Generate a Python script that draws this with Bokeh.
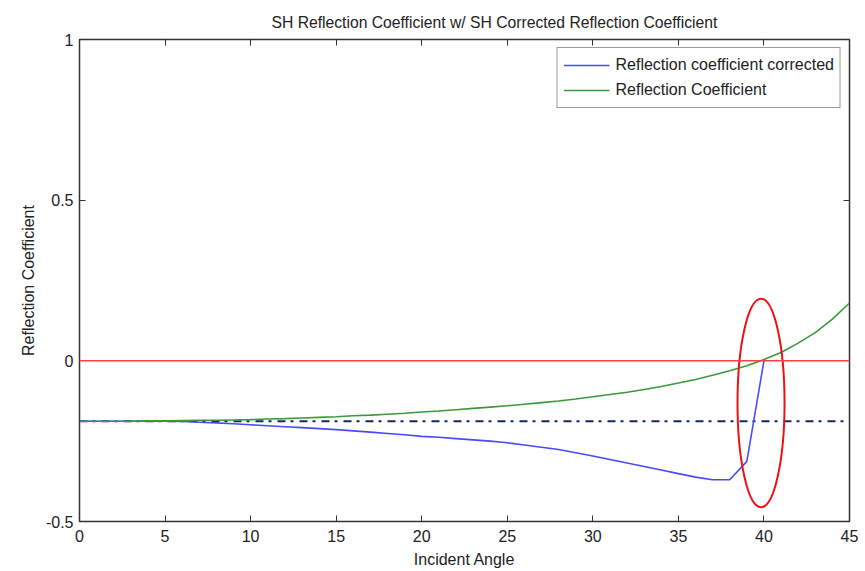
from bokeh.plotting import figure
from bokeh.models import Range1d, LinearAxis, FixedTicker, Legend, LegendItem, Span
from bokeh.embed import file_html
from bokeh.resources import INLINE

angles = list(range(0, 46))
refl = [-0.188, -0.188, -0.188, -0.188, -0.187, -0.187, -0.186, -0.185, -0.185, -0.184,
        -0.183, -0.181, -0.180, -0.178, -0.176, -0.174, -0.171, -0.169, -0.166, -0.163,
        -0.159, -0.156, -0.152, -0.148, -0.144, -0.140, -0.135, -0.130, -0.125, -0.119,
        -0.112, -0.105, -0.098, -0.089, -0.080, -0.069, -0.058, -0.045, -0.031, -0.015,
        0.004, 0.026, 0.055, 0.088, 0.130, 0.180]
angles_corr = list(range(0, 41))
refl_corr = [-0.188, -0.188, -0.188, -0.188, -0.188, -0.188, -0.189, -0.191, -0.193, -0.196,
             -0.199, -0.202, -0.205, -0.208, -0.211, -0.214, -0.218, -0.222, -0.226, -0.230,
             -0.235, -0.238, -0.242, -0.246, -0.250, -0.255, -0.262, -0.269, -0.276, -0.286,
             -0.296, -0.307, -0.318, -0.329, -0.340, -0.351, -0.362, -0.370, -0.370, -0.313,
             0.0]
normal_x = [0, 45]
normal_y = [-0.188, -0.188]
zero_level = 0.0
ellipse_center = (39.83, -0.131)
ellipse_size = (2.75, 0.65)

x_ticks = [0, 5, 10, 15, 20, 25, 30, 35, 40, 45]
y_ticks = [-0.5, 0, 0.5, 1]
y_tick_labels = {-0.5: "-0.5", 0: "0", 0.5: "0.5", 1: "1"}

FONT = "Liberation Sans"
TXT = "#222222"

p = figure(width=865, height=571, output_backend="svg", toolbar_location=None,
           x_range=Range1d(0, 45), y_range=Range1d(-0.5, 1),
           min_border_left=79, min_border_right=16, min_border_top=39, min_border_bottom=50,
           title="SH Reflection Coefficient w/ SH Corrected Reflection Coefficient")
p.title.align = "left"
p.title.text_font = FONT
p.title.text_font_size = "15.7px"
p.title.text_font_style = "normal"
p.title.text_color = TXT
p.title.offset = 192
p.title.standoff = 18
p.grid.visible = False
p.outline_line_color = "#333333"
p.outline_line_width = 1.5
p.background_fill_color = "white"
p.border_fill_color = "white"

for ax in [p.xaxis[0], p.yaxis[0]]:
    ax.major_tick_in = 6
    ax.major_tick_out = 0
    ax.minor_tick_in = 0
    ax.minor_tick_out = 0
    ax.axis_line_color = "#333333"
    ax.major_tick_line_color = "#333333"
    ax.major_label_text_font = FONT
    ax.major_label_text_font_size = "16px"
    ax.major_label_text_color = TXT
    ax.axis_label_text_font = FONT
    ax.axis_label_text_font_size = "16px"
    ax.axis_label_text_font_style = "normal"
    ax.axis_label_text_color = TXT

p.xaxis[0].ticker = FixedTicker(ticks=x_ticks)
p.yaxis[0].ticker = FixedTicker(ticks=y_ticks)
p.yaxis[0].major_label_overrides = y_tick_labels
p.xaxis[0].axis_label = "Incident Angle"
p.yaxis[0].axis_label = "Reflection Coefficient"
p.xaxis[0].major_label_standoff = 8
p.xaxis[0].axis_label_standoff = 6
p.yaxis[0].major_label_standoff = 6
p.yaxis[0].axis_label_standoff = 6

top = LinearAxis(ticker=FixedTicker(ticks=x_ticks),
                 major_label_overrides={t: "" for t in x_ticks},
                 major_tick_in=6, major_tick_out=0, minor_tick_in=0, minor_tick_out=0,
                 axis_line_color=None, major_tick_line_color="#333333", major_label_standoff=0)
right = LinearAxis(ticker=FixedTicker(ticks=y_ticks),
                   major_label_overrides={t: "" for t in y_ticks},
                   major_tick_in=6, major_tick_out=0, minor_tick_in=0, minor_tick_out=0,
                   axis_line_color=None, major_tick_line_color="#333333", major_label_standoff=0)
p.add_layout(top, "above")
p.add_layout(right, "right")

p.add_layout(Span(location=zero_level, dimension="width", line_color="#ff4040", line_width=1.5))

p.line(normal_x, normal_y, line_color="#14285a", line_width=2, line_dash="8 5 3 6")
r_corr = p.line(angles_corr, refl_corr, line_color="#4a4aff", line_width=1.6)
r_refl = p.line(angles, refl, line_color="#3a9a3a", line_width=1.6)

p.ellipse(x=[ellipse_center[0]], y=[ellipse_center[1]], width=ellipse_size[0], height=ellipse_size[1],
          fill_color=None, line_color="#ee1111", line_width=2)

legend = Legend(items=[LegendItem(label="Reflection coefficient corrected", renderers=[r_corr]),
                       LegendItem(label="Reflection Coefficient", renderers=[r_refl])],
                location="top_right")
legend.label_text_font = FONT
legend.label_text_font_size = "16px"
legend.label_text_color = TXT
legend.border_line_color = "#333333"
legend.border_line_width = 1
legend.glyph_width = 46
legend.glyph_height = 22
legend.label_standoff = 6
legend.padding = 6
legend.spacing = 3
legend.margin = 8
legend.label_height = 22
p.add_layout(legend)

open("out.html", "w").write(file_html(p, INLINE))
